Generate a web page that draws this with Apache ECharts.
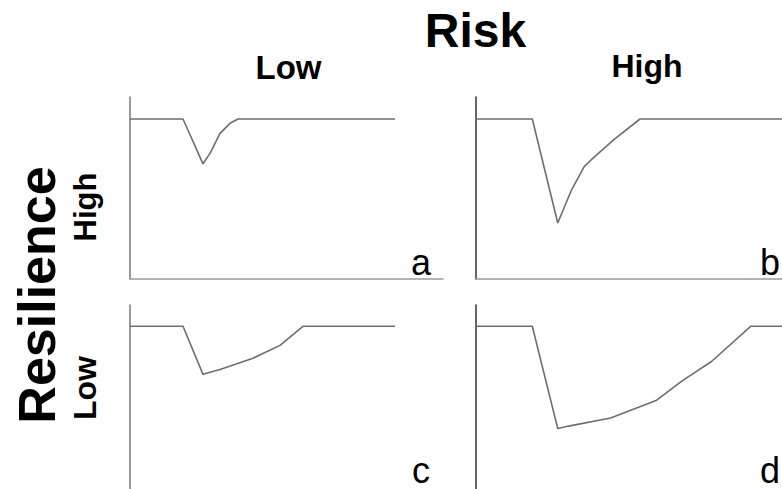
<!DOCTYPE html>
<html>
<head>
<meta charset="utf-8">
<script src="https://cdn.jsdelivr.net/npm/echarts@6/dist/echarts.min.js"></script>
<style>
html,body{margin:0;padding:0;background:#fff;}
#chart{width:782px;height:489px;}
</style>
</head>
<body>
<div id="chart"></div>
<script>
// Panel a: low risk, high resilience
const timeA  = [0, 53, 73, 80, 90, 100, 108, 265];
const valueA = [100, 100, 72, 78.5, 91, 97.3, 100, 100];
// Panel b: high risk, high resilience
const timeB  = [0, 58, 84, 98, 111, 118, 141, 168, 313];
const valueB = [100, 100, 35, 55.6, 70.2, 74.4, 86.9, 100, 100];
// Panel c: low risk, low resilience
const timeC  = [0, 53, 73, 90, 123, 150, 173, 265];
const valueC = [100, 100, 69, 72.1, 79.4, 87.7, 100, 100];
// Panel d: high risk, low resilience
const timeD  = [0, 58, 84, 95, 138, 185, 211, 241, 281, 313];
const valueD = [100, 100, 34, 35.6, 40.8, 52.3, 64.8, 77.3, 100, 100];

const panelLetters = ['a', 'b', 'c', 'd'];
const riskLabels = ['Low', 'High'];
const resilienceLabels = ['High', 'Low'];
const mainTitle = 'Risk';
const sideTitle = 'Resilience';

const FONT = '"Liberation Sans", Arial, Helvetica, sans-serif';
const zip = (xs, ys) => xs.map((x, i) => [x, ys[i]]);
const panels = [zip(timeA, valueA), zip(timeB, valueB), zip(timeC, valueC), zip(timeD, valueD)];

const grids = [
  {left: 130, top: 97, width: 313, height: 182},
  {left: 475.5, top: 97, width: 313, height: 182},
  {left: 130, top: 305, width: 313, height: 190},
  {left: 475.5, top: 305, width: 313, height: 190}
];

const xAxes = grids.map((g, i) => ({
  type: 'value', gridIndex: i, min: 0, max: 313,
  axisLine: {show: i < 2, onZero: false, lineStyle: {color: '#9a9a9a', width: 1.5}},
  axisTick: {show: false}, axisLabel: {show: false}, splitLine: {show: false}
}));
const yAxes = grids.map((g, i) => ({
  type: 'value', gridIndex: i, min: i < 2 ? 0 : -5, max: 113.75,
  axisLine: {show: true, onZero: false, lineStyle: {color: i % 2 === 0 ? '#777' : '#333', width: 1.5}},
  axisTick: {show: false}, axisLabel: {show: false}, splitLine: {show: false}
}));

const series = panels.map((d, i) => ({
  type: 'line', xAxisIndex: i, yAxisIndex: i, data: d,
  showSymbol: false, symbol: 'none', smooth: false, silent: true,
  lineStyle: {color: '#6e6e6e', width: 1.6}
}));

const letterPos = [[421, 262], [770, 262], [421, 470], [770, 470]];
const graphics = [
  {type: 'text', x: 475.5, y: 30, style: {text: mainTitle, font: 'bold 48px ' + FONT, fill: '#000', textAlign: 'center', textVerticalAlign: 'middle'}},
  {type: 'text', x: 288.5, y: 67, style: {text: riskLabels[0], font: 'bold 33px ' + FONT, fill: '#000', textAlign: 'center', textVerticalAlign: 'middle'}},
  {type: 'text', x: 647, y: 66, style: {text: riskLabels[1], font: 'bold 32px ' + FONT, fill: '#000', textAlign: 'center', textVerticalAlign: 'middle'}},
  {type: 'text', x: 36.5, y: 295, rotation: Math.PI / 2, style: {text: sideTitle, font: 'bold 52px ' + FONT, fill: '#000', textAlign: 'center', textVerticalAlign: 'middle'}},
  {type: 'text', x: 85, y: 207, rotation: Math.PI / 2, style: {text: resilienceLabels[0], font: 'bold 31px ' + FONT, fill: '#000', textAlign: 'center', textVerticalAlign: 'middle'}},
  {type: 'text', x: 85, y: 388, rotation: Math.PI / 2, style: {text: resilienceLabels[1], font: 'bold 32px ' + FONT, fill: '#000', textAlign: 'center', textVerticalAlign: 'middle'}}
].concat(panelLetters.map((t, i) => ({
  type: 'text', x: letterPos[i][0], y: letterPos[i][1],
  style: {text: t, font: '36px ' + FONT, fill: '#000', textAlign: 'center', textVerticalAlign: 'middle'}
})));

const chart = echarts.init(document.getElementById('chart'), null, {renderer: 'svg'});
chart.setOption({
  animation: false,
  backgroundColor: '#fff',
  grid: grids,
  xAxis: xAxes,
  yAxis: yAxes,
  series: series,
  graphic: graphics
});
</script>
</body>
</html>
